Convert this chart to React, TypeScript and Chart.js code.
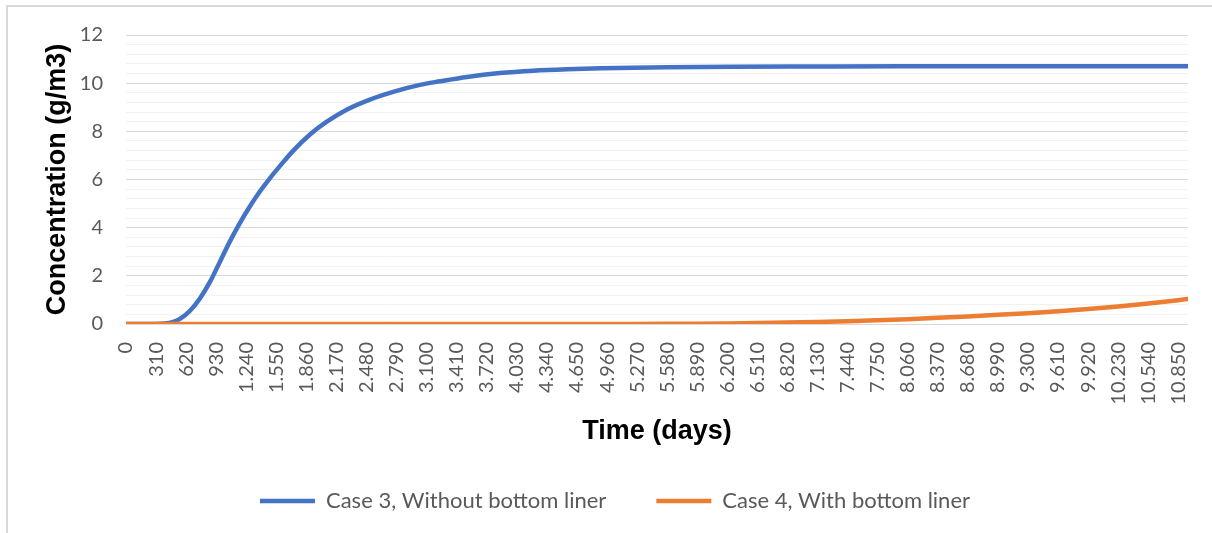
import React, { useEffect, useRef } from "react";
import { Chart, registerables } from "chart.js";

Chart.register(...registerables);

// Category tick positions on the time axis (days)
const TICK_DAYS = [
  0, 310, 620, 930, 1240, 1550, 1860, 2170, 2480, 2790, 3100, 3410, 3720, 4030,
  4340, 4650, 4960, 5270, 5580, 5890, 6200, 6510, 6820, 7130, 7440, 7750, 8060,
  8370, 8680, 8990, 9300, 9610, 9920, 10230, 10540, 10850,
];

const SERIES_NAMES = ["Case 3, Without bottom liner", "Case 4, With bottom liner"];

// Case 3
const BLUE_DAYS = [
  0, 310, 400, 480, 560, 660, 760, 870, 970, 1070, 1175, 1280, 1380, 1485, 1600,
  1725, 1900, 2070, 2275, 2515, 2755, 3030, 3240, 3515, 3855, 4200, 4545, 4900,
  5575, 6260, 7000, 8000, 9000, 10000, 10950,
];
const BLUE_VALUES = [
  0, 0, 0.02, 0.08, 0.22, 0.55, 1.05, 1.78, 2.6, 3.42, 4.2, 4.9, 5.5, 6.06, 6.62,
  7.2, 7.88, 8.4, 8.9, 9.32, 9.64, 9.93, 10.08, 10.26, 10.42, 10.52, 10.58, 10.62,
  10.66, 10.68, 10.69, 10.7, 10.7, 10.7, 10.7,
];

// Case 4
const ORANGE_DAYS = [
  0, 4650, 5270, 5580, 5890, 6200, 6510, 6820, 7130, 7440, 7750, 8060, 8370, 8680,
  8990, 9300, 9610, 9920, 10230, 10540, 10850, 10950,
];
const ORANGE_VALUES = [
  0, 0, 0.003, 0.008, 0.015, 0.025, 0.04, 0.06, 0.085, 0.115, 0.155, 0.2, 0.255,
  0.315, 0.38, 0.45, 0.53, 0.62, 0.73, 0.85, 0.99, 1.04,
];

const X_MAX = 10950;
const Y_MAX = 12;

function fmt(v: number): string {
  return String(Math.round(v)).replace(/\B(?=(\d{3})+(?!\d))/g, ".");
}

function isMajor(v: number): boolean {
  return Math.abs(v / 2 - Math.round(v / 2)) < 1e-6;
}

export default function App() {
  const ref = useRef<HTMLCanvasElement | null>(null);

  useEffect(() => {
    if (!ref.current) return;
    const chart = new Chart(ref.current, {
      type: "line",
      data: {
        datasets: [
          {
            label: SERIES_NAMES[0],
            data: BLUE_DAYS.map((d, i) => ({ x: d, y: BLUE_VALUES[i] })),
            borderColor: "#4472C4",
            backgroundColor: "#4472C4",
            borderWidth: 4.5,
            pointRadius: 0,
            cubicInterpolationMode: "monotone",
            borderCapStyle: "round",
            borderJoinStyle: "round",
            order: 1,
          },
          {
            label: SERIES_NAMES[1],
            data: ORANGE_DAYS.map((d, i) => ({ x: d, y: ORANGE_VALUES[i] })),
            borderColor: "#ED7D31",
            backgroundColor: "#ED7D31",
            borderWidth: 4.5,
            pointRadius: 0,
            cubicInterpolationMode: "monotone",
            borderCapStyle: "round",
            borderJoinStyle: "round",
            order: 0,
          },
        ],
      },
      options: {
        responsive: false,
        animation: false,
        layout: { padding: { left: 18, top: 35, right: 0, bottom: 11 } },
        plugins: {
          tooltip: { enabled: false },
          legend: {
            position: "bottom",
            labels: {
              usePointStyle: true,
              pointStyle: "line",
              pointStyleWidth: 55,
              padding: 50,
              color: "#595959",
              font: { family: "Lato", size: 22 },
              sort: (a: any, b: any) => a.datasetIndex - b.datasetIndex,
            },
          },
        },
        scales: {
          x: {
            type: "linear",
            min: 0,
            max: X_MAX,
            afterBuildTicks: (axis: any) => {
              axis.ticks = TICK_DAYS.map((v) => ({ value: v }));
            },
            afterFit: (s: any) => {
              s.height = 116;
              s.paddingLeft = 0;
              s.paddingRight = 24;
            },
            grid: { display: false, drawTicks: false },
            border: { display: false },
            ticks: {
              autoSkip: false,
              minRotation: 90,
              maxRotation: 90,
              padding: 18,
              color: "#595959",
              font: { family: "Lato", size: 20 },
              callback: (v: any) => fmt(Number(v)),
            },
            title: {
              display: true,
              text: "Time (days)",
              color: "#000000",
              font: { family: "Liberation Sans", size: 27, weight: "bold", lineHeight: 0.6 },
              padding: { top: 0, bottom: 0 },
            },
          },
          y: {
            min: 0,
            max: Y_MAX,
            afterFit: (s: any) => {
              s.width = 108;
            },
            grid: {
              drawTicks: false,
              lineWidth: 1,
              color: (ctx: any) => (isMajor(ctx.tick ? ctx.tick.value : 0) ? "#d9d9d9" : "#f2f2f2"),
            },
            border: { display: false },
            ticks: {
              stepSize: 0.4,
              autoSkip: false,
              padding: 23,
              color: "#595959",
              font: { family: "Lato", size: 20 },
              callback: (v: any) => (isMajor(Number(v)) ? String(Math.round(Number(v))) : ""),
            },
            title: {
              display: true,
              text: "Concentration (g/m3)",
              color: "#000000",
              font: { family: "Liberation Sans", size: 27, weight: "bold" },
              padding: { top: 23, bottom: 0 },
            },
          },
        },
      },
    } as any);
    return () => chart.destroy();
  }, []);

  return (
    <div style={{ position: "fixed", left: 0, top: 0, width: 1212, height: 533, background: "#fff" }}>
      <div
        style={{
          position: "absolute",
          left: 6,
          top: 5,
          width: 1230,
          height: 560,
          borderTop: "2px solid #d9d9d9",
          borderLeft: "2px solid #d9d9d9",
        }}
      />
      <canvas
        ref={ref}
        width={1212}
        height={533}
        style={{ position: "absolute", left: 0, top: 0, width: 1212, height: 533 }}
      />
    </div>
  );
}
